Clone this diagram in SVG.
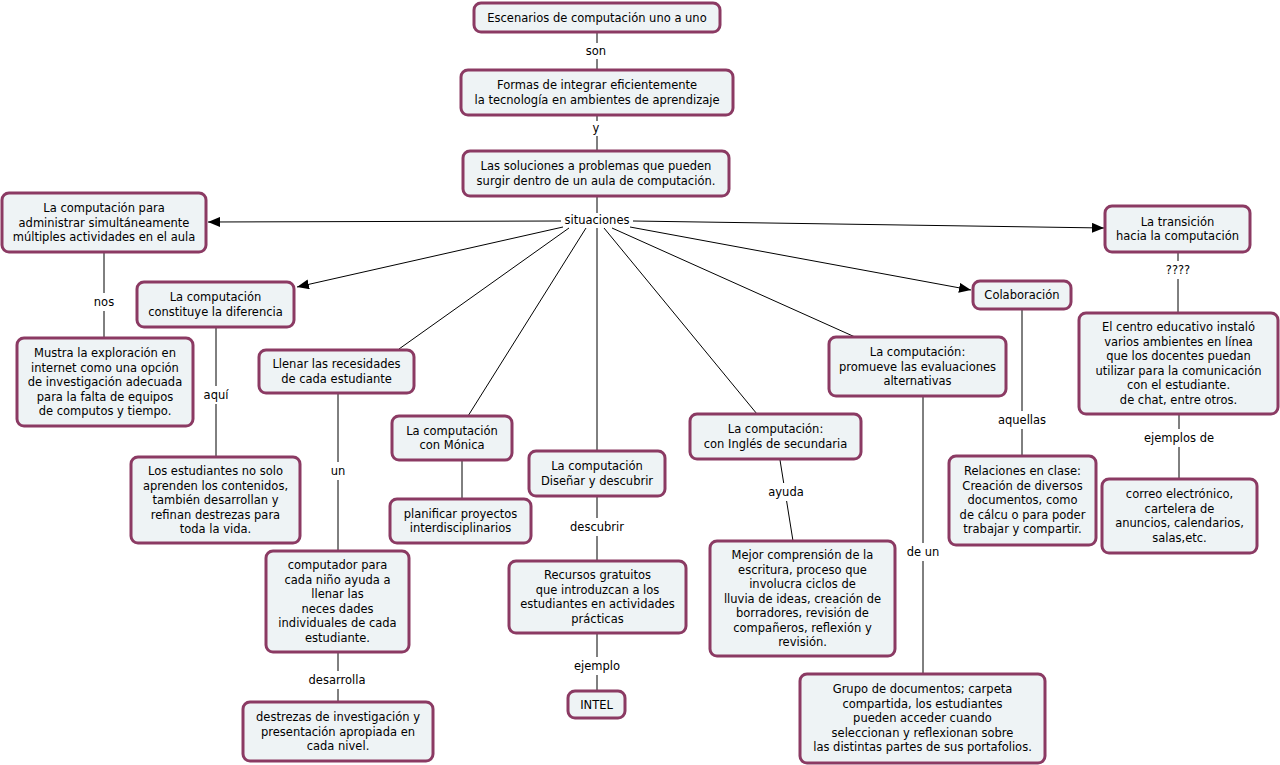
<svg xmlns="http://www.w3.org/2000/svg" width="1280" height="765" viewBox="0 0 1280 765">
<defs>
<marker id="arr" viewBox="0 0 12 10" refX="12" refY="5" markerWidth="12" markerHeight="10" markerUnits="userSpaceOnUse" orient="auto">
<path d="M0,0 L12,5 L0,10 Z" fill="#000"/>
</marker>
<style>
.n rect{fill:#eef3f5;stroke:#8b3a63;stroke-width:3}
text{font-family:"DejaVu Sans","Verdana",sans-serif;font-size:11.5px;fill:#000;text-anchor:middle}
.c line{stroke:#000;stroke-width:1}
.c .a{marker-end:url(#arr)}
</style>
</defs>
<rect x="0" y="0" width="1280" height="765" fill="#fff"/>
<g class="c" id="connectors">
<line x1="597" y1="32" x2="597" y2="43"/><line x1="597" y1="59" x2="597" y2="70"/>
<line x1="597" y1="115" x2="597" y2="121"/><line x1="597" y1="136" x2="597" y2="151"/>
<line x1="597" y1="196" x2="597" y2="213"/>
<line class="a" x1="561" y1="221" x2="208" y2="222"/>
<line class="a" x1="633" y1="221" x2="1104" y2="228"/>
<line class="a" x1="563" y1="227" x2="297" y2="287"/>
<line class="a" x1="630" y1="227" x2="971" y2="290"/>
<line x1="569" y1="228" x2="399" y2="349"/>
<line x1="586" y1="228" x2="468" y2="416"/>
<line x1="597" y1="228" x2="597" y2="451"/>
<line x1="604" y1="228" x2="757" y2="414"/>
<line x1="612" y1="228" x2="855" y2="337"/>
<line x1="104" y1="252" x2="104" y2="293"/><line x1="104" y1="311" x2="104" y2="338"/>
<line x1="216" y1="327" x2="216" y2="386"/><line x1="216" y1="404" x2="216" y2="457"/>
<line x1="338" y1="393" x2="338" y2="462"/><line x1="338" y1="480" x2="338" y2="551"/>
<line x1="338" y1="652" x2="338" y2="671"/><line x1="338" y1="689" x2="338" y2="702"/>
<line x1="462" y1="460" x2="462" y2="499"/>
<line x1="597" y1="496" x2="597" y2="518"/><line x1="597" y1="536" x2="597" y2="561"/>
<line x1="597" y1="633" x2="597" y2="657"/><line x1="597" y1="675" x2="597" y2="691"/>
<line x1="780" y1="460" x2="783.7" y2="483"/><line x1="786.6" y1="501" x2="793" y2="541"/>
<line x1="923" y1="396" x2="923" y2="543"/><line x1="923" y1="561" x2="923" y2="674"/>
<line x1="1022" y1="309" x2="1022" y2="411"/><line x1="1022" y1="429" x2="1022" y2="456"/>
<line x1="1178" y1="252" x2="1178" y2="261"/><line x1="1178" y1="279" x2="1178" y2="313"/>
<line x1="1179" y1="414" x2="1179" y2="429"/><line x1="1179" y1="447" x2="1179" y2="479"/>
</g>
<g id="labels">
<text x="596" y="55">son</text>
<text x="596" y="132">y</text>
<text x="597" y="224">situaciones</text>
<text x="104" y="306">nos</text>
<text x="216" y="399">aquí</text>
<text x="338" y="475">un</text>
<text x="337" y="684">desarrolla</text>
<text x="597" y="531">descubrir</text>
<text x="597" y="670">ejemplo</text>
<text x="786" y="496">ayuda</text>
<text x="923" y="556">de un</text>
<text x="1022" y="424">aquellas</text>
<text x="1178" y="274">????</text>
<text x="1179" y="442">ejemplos de</text>
</g>
<g class="n" id="n1"><rect x="474" y="3" width="246" height="29" rx="7"/><text x="597" y="21.5">Escenarios de computación uno a uno</text></g>
<g class="n" id="n2"><rect x="461" y="70" width="272" height="45" rx="7"/><text x="597" y="89">Formas de integrar eficientemente</text><text x="597" y="103.5">la tecnología en ambientes de aprendizaje</text></g>
<g class="n" id="n3"><rect x="463" y="151" width="266" height="45" rx="7"/><text x="596" y="170">Las soluciones a problemas que pueden</text><text x="596" y="184.5">surgir dentro de un aula de computación.</text></g>
<g class="n" id="n7"><rect x="2" y="193" width="204" height="59" rx="7"/><text x="104" y="212">La computación para</text><text x="104" y="226.5">administrar simultáneamente</text><text x="104" y="241">múltiples actividades en el aula</text></g>
<g class="n" id="n8"><rect x="1105" y="206" width="145" height="46" rx="7"/><text x="1177.5" y="225.5">La transición</text><text x="1177.5" y="240">hacia la computación</text></g>
<g class="n" id="n9"><rect x="137" y="282" width="157" height="45" rx="7"/><text x="215.5" y="301">La computación</text><text x="215.5" y="315.5">constituye la diferencia</text></g>
<g class="n" id="n10"><rect x="973" y="281" width="98" height="28" rx="7"/><text x="1022" y="299">Colaboración</text></g>
<g class="n" id="n11"><rect x="259" y="350" width="155" height="43" rx="7"/><text x="336.5" y="368">Llenar las recesidades</text><text x="336.5" y="382.5">de cada estudiante</text></g>
<g class="n" id="n12"><rect x="392" y="416" width="120" height="44" rx="7"/><text x="452" y="434.5">La computación</text><text x="452" y="449">con Mónica</text></g>
<g class="n" id="n13"><rect x="529" y="451" width="136" height="45" rx="7"/><text x="597" y="470">La computación</text><text x="597" y="484.5">Diseñar y descubrir</text></g>
<g class="n" id="n14"><rect x="690" y="414" width="171" height="45" rx="7"/><text x="775.5" y="433">La computación:</text><text x="775.5" y="447.5">con Inglés de secundaria</text></g>
<g class="n" id="n15"><rect x="829" y="337" width="177" height="59" rx="7"/><text x="917.5" y="356">La computación:</text><text x="917.5" y="370.5">promueve las evaluaciones</text><text x="917.5" y="385">alternativas</text></g>
<g class="n" id="n17"><rect x="17" y="338" width="176" height="88" rx="7"/><text x="105" y="357">Mustra la exploración en</text><text x="105" y="371.5">internet como una opción</text><text x="105" y="386">de investigación adecuada</text><text x="105" y="400.5">para la falta de equipos</text><text x="105" y="415">de computos y tiempo.</text></g>
<g class="n" id="n19"><rect x="131" y="457" width="169" height="86" rx="7"/><text x="215.5" y="475">Los estudiantes no solo</text><text x="215.5" y="489.5">aprenden los contenidos,</text><text x="215.5" y="504">también desarrollan y</text><text x="215.5" y="518.5">refinan destrezas para</text><text x="215.5" y="533">toda la vida.</text></g>
<g class="n" id="n21"><rect x="266" y="551" width="143" height="101" rx="7"/><text x="337.5" y="569">computador para</text><text x="337.5" y="583.5">cada niño ayuda a</text><text x="337.5" y="598">llenar las</text><text x="337.5" y="612.5">neces dades</text><text x="337.5" y="627">individuales de cada</text><text x="337.5" y="641.5">estudiante.</text></g>
<g class="n" id="n23"><rect x="243" y="702" width="190" height="59" rx="7"/><text x="338" y="721">destrezas de investigación y</text><text x="338" y="735.5">presentación apropiada en</text><text x="338" y="750">cada nivel.</text></g>
<g class="n" id="n24"><rect x="390" y="499" width="141" height="44" rx="7"/><text x="460.5" y="517.5">planificar proyectos</text><text x="460.5" y="532">interdisciplinarios</text></g>
<g class="n" id="n26"><rect x="509" y="561" width="177" height="72" rx="7"/><text x="597.5" y="579">Recursos gratuitos</text><text x="597.5" y="593.5">que introduzcan a los</text><text x="597.5" y="608">estudiantes en actividades</text><text x="597.5" y="622.5">prácticas</text></g>
<g class="n" id="n28"><rect x="568" y="691" width="57" height="27" rx="7"/><text x="596.5" y="708.5">INTEL</text></g>
<g class="n" id="n30"><rect x="710" y="541" width="185" height="115" rx="7"/><text x="802.5" y="559">Mejor comprensión de la</text><text x="802.5" y="573.5">escritura, proceso que</text><text x="802.5" y="588">involucra ciclos de</text><text x="802.5" y="602.5">lluvia de ideas, creación de</text><text x="802.5" y="617">borradores, revisión de</text><text x="802.5" y="631.5">compañeros, reflexión y</text><text x="802.5" y="646">revisión.</text></g>
<g class="n" id="n32"><rect x="800" y="674" width="245" height="89" rx="7"/><text x="922.5" y="693">Grupo de documentos; carpeta</text><text x="922.5" y="707.5">compartida, los estudiantes</text><text x="922.5" y="722">pueden acceder cuando</text><text x="922.5" y="736.5">seleccionan y reflexionan sobre</text><text x="922.5" y="751">las distintas partes de sus portafolios.</text></g>
<g class="n" id="n34"><rect x="949" y="456" width="147" height="89" rx="7"/><text x="1022.5" y="475">Relaciones en clase:</text><text x="1022.5" y="489.5">Creación de diversos</text><text x="1022.5" y="504">documentos, como</text><text x="1022.5" y="518.5">de cálcu o para poder</text><text x="1022.5" y="533">trabajar y compartir.</text></g>
<g class="n" id="n36"><rect x="1079" y="313" width="199" height="101" rx="7"/><text x="1178.5" y="331">El centro educativo instaló</text><text x="1178.5" y="345.5">varios ambientes en línea</text><text x="1178.5" y="360">que los docentes puedan</text><text x="1178.5" y="374.5">utilizar para la comunicación</text><text x="1178.5" y="389">con el estudiante.</text><text x="1178.5" y="403.5">de chat, entre otros.</text></g>
<g class="n" id="n38"><rect x="1102" y="479" width="155" height="74" rx="7"/><text x="1179.5" y="498">correo electrónico,</text><text x="1179.5" y="512.5">cartelera de</text><text x="1179.5" y="527">anuncios, calendarios,</text><text x="1179.5" y="541.5">salas,etc.</text></g>
</svg>
